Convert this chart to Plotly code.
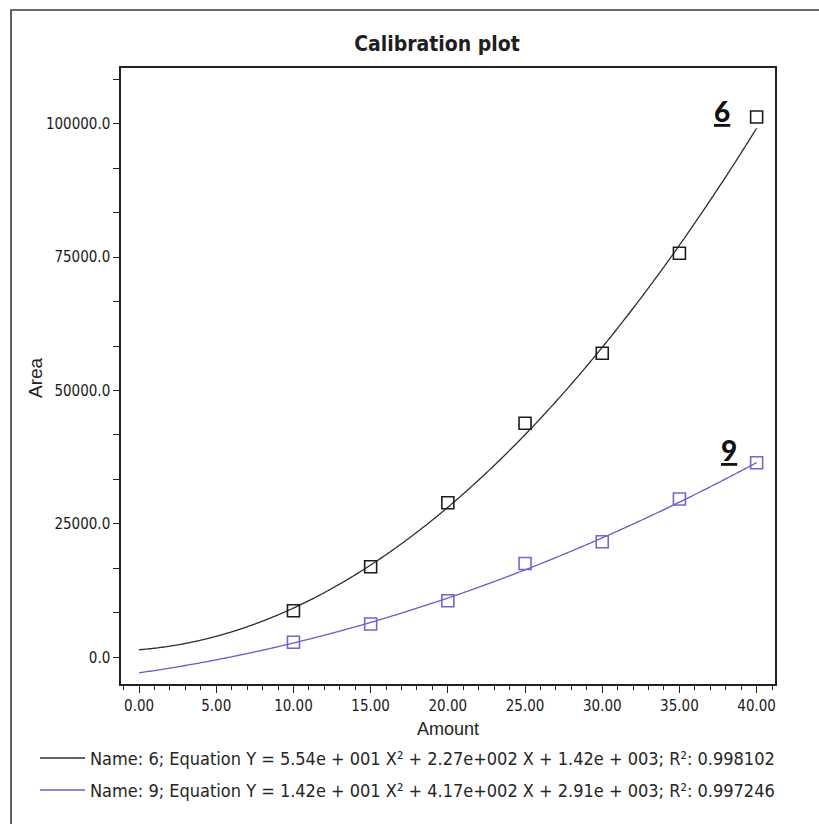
import numpy as np
import plotly.graph_objects as go

# Calibration standards (amount) and measured peak areas
amount = [10, 15, 20, 25, 30, 35, 40]
area_6 = [8730, 16980, 28970, 43850, 56970, 75710, 101250]
area_9 = [2810, 6240, 10610, 17580, 21660, 29670, 36470]

# Quadratic fit coefficients (a*X^2 + b*X + c)
coef_6 = [55.4, 227.0, 1420.0]
coef_9 = [14.2, 417.0, -2910.0]

legend_6 = "Name: 6; Equation Y = 5.54e + 001 X² + 2.27e+002 X + 1.42e + 003; R²: 0.998102"
legend_9 = "Name: 9; Equation Y = 1.42e + 001 X² + 4.17e+002 X + 2.91e + 003; R²: 0.997246"

x_ticks = [0, 5, 10, 15, 20, 25, 30, 35, 40]
y_ticks = [0, 25000, 50000, 75000, 100000]

C6_LINE, C6_MARK = "#2e2e2e", "#1c1c1c"
C9_LINE, C9_MARK = "#6a5bc6", "#7565c9"

NARROW = "Liberation Sans Narrow, Arial Narrow, DejaVu Sans Condensed, sans-serif"
REGULAR = "Liberation Sans, Arial, sans-serif"

fit_x = np.linspace(0, 40, 401)

fig = go.Figure()
fig.add_trace(go.Scatter(x=fit_x, y=np.polyval(coef_6, fit_x), mode="lines",
                         line=dict(color=C6_LINE, width=1.3, simplify=False),
                         showlegend=False))
fig.add_trace(go.Scatter(x=fit_x, y=np.polyval(coef_9, fit_x), mode="lines",
                         line=dict(color=C9_LINE, width=1.3, simplify=False),
                         showlegend=False))
fig.add_trace(go.Scatter(x=amount, y=area_6, mode="markers",
                         marker=dict(symbol="square-open", size=12,
                                     line=dict(color=C6_MARK, width=1.6),
                                     color=C6_MARK),
                         showlegend=False))
fig.add_trace(go.Scatter(x=amount, y=area_9, mode="markers",
                         marker=dict(symbol="square-open", size=12,
                                     line=dict(color=C9_MARK, width=1.6),
                                     color=C9_MARK),
                         showlegend=False))

# plot-area geometry in pixels (for paper-coordinate decorations)
L, R, T, B = 121, 775, 68, 684
W, H = 819, 824


def px(x):
    return (x - L) / (R - L)


def py(y):
    return (B - y) / (B - T)


shapes = [
    # outer frame around the whole figure
    dict(type="rect", xref="paper", yref="paper",
         x0=px(11), x1=px(835), y0=py(840), y1=py(10),
         line=dict(color="#3a3a3a", width=1.6), fillcolor="rgba(0,0,0,0)"),
    # legend line samples
    dict(type="line", xref="paper", yref="paper",
         x0=px(40), x1=px(85), y0=py(758), y1=py(758),
         line=dict(color=C6_LINE, width=1.4)),
    dict(type="line", xref="paper", yref="paper",
         x0=px(40), x1=px(85), y0=py(790), y1=py(790),
         line=dict(color=C9_LINE, width=1.4)),
]

annotations = [
    dict(text=legend_6, xref="paper", yref="paper", x=px(88), y=py(758),
         xanchor="left", yanchor="middle", showarrow=False,
         font=dict(family=NARROW, size=18, color="#262626")),
    dict(text=legend_9, xref="paper", yref="paper", x=px(88), y=py(790),
         xanchor="left", yanchor="middle", showarrow=False,
         font=dict(family=NARROW, size=18, color="#262626")),
    # y-axis title
    dict(text="Area", xref="paper", yref="paper", x=px(35), y=py(378),
         xanchor="center", yanchor="middle", textangle=-90, showarrow=False,
         font=dict(family=REGULAR, size=19, color="#222")),
    dict(text="6", xref="x", yref="y", x=37.75, y=102300,
         xanchor="center", yanchor="middle", showarrow=False,
         font=dict(family="Lato, DejaVu Sans, sans-serif", size=28,
                   color="#111", weight=900, lineposition="under")),
    dict(text="9", xref="x", yref="y", x=38.2, y=38800,
         xanchor="center", yanchor="middle", showarrow=False,
         font=dict(family="Lato, DejaVu Sans, sans-serif", size=28,
                   color="#111", weight=900, lineposition="under")),
]

fig.update_layout(
    width=W, height=H,
    margin=dict(l=L, r=W - R, t=T, b=H - B),
    paper_bgcolor="white", plot_bgcolor="white",
    title=dict(text="<b>Calibration plot</b>", xref="container", yref="container",
               x=437 / W, y=1 - 44 / H, xanchor="center", yanchor="middle",
               font=dict(family=NARROW, size=21, color="#1e1e1e")),
    shapes=shapes, annotations=annotations,
    showlegend=False,
)

fig.update_xaxes(
    range=[-1.17, 41.19], tickvals=x_ticks, tickformat=".2f",
    ticks="outside", ticklen=7, tickwidth=1.2, tickcolor="#222",
    minor=dict(dtick=1, tick0=0, ticks="outside", ticklen=4, tickwidth=1.2,
               tickcolor="#222", showgrid=False),
    showline=True, linecolor="#222", linewidth=1.5, mirror=True,
    showgrid=False, zeroline=False,
    tickfont=dict(family=NARROW, size=15, color="#1a1a1a"),
    title=dict(text="Amount", standoff=9,
               font=dict(family=REGULAR, size=18, color="#222")),
)
fig.update_yaxes(
    range=[-5000, 110430], tickvals=y_ticks, tickformat=".1f",
    ticks="outside", ticklen=6, tickwidth=1.2, tickcolor="#222",
    minor=dict(dtick=25000 / 3, tick0=0, ticks="outside", ticklen=6, tickwidth=1.2,
               tickcolor="#222", showgrid=False),
    showline=True, linecolor="#222", linewidth=1.5, mirror=True,
    showgrid=False, zeroline=False,
    tickfont=dict(family=NARROW, size=15, color="#1a1a1a"),
)

fig.write_html("out.html")
